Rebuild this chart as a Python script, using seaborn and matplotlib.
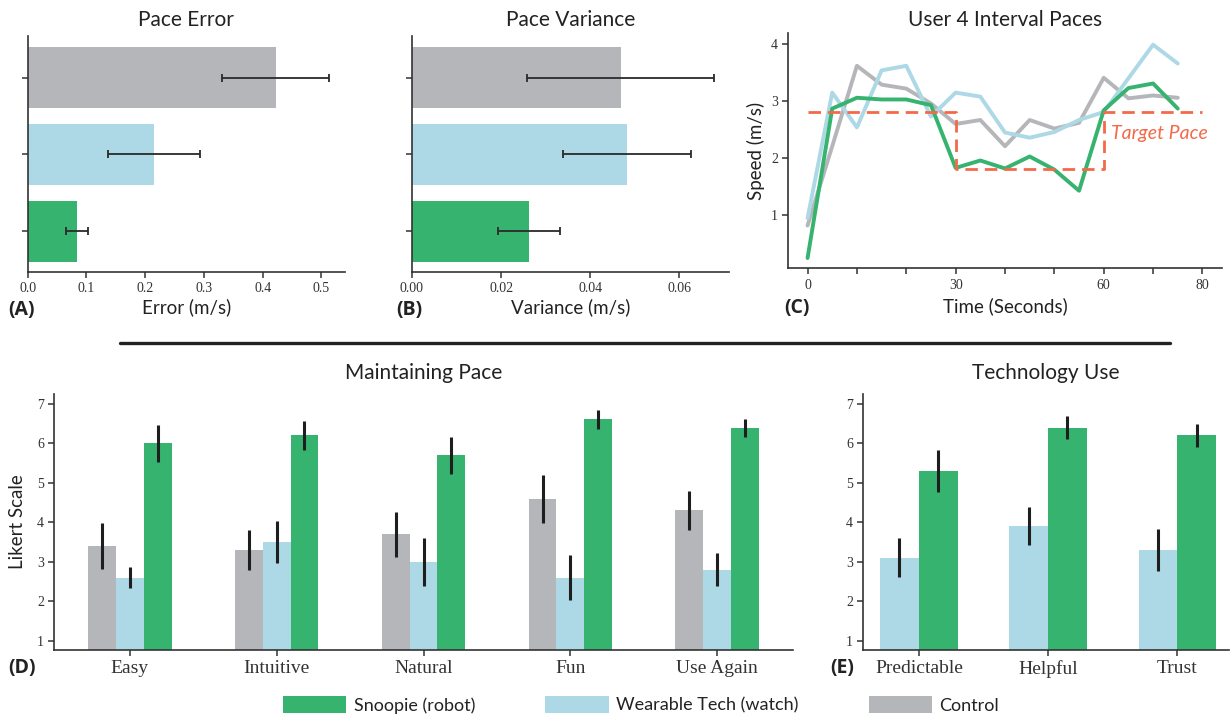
import numpy as np
import pandas as pd
import matplotlib
matplotlib.use("Agg")
import matplotlib.pyplot as plt
from matplotlib.patches import Patch
from matplotlib.lines import Line2D
import seaborn as sns

# ---------------- data ----------------
groups = ["Control", "Wearable Tech (watch)", "Snoopie (robot)"]
colors = {"Control": "#B5B6BA", "Wearable Tech (watch)": "#ADD8E6", "Snoopie (robot)": "#37B370"}

# Panel A: pace error (mean, +/- err)
err_mean = [0.422, 0.215, 0.084]
err_ci = [0.091, 0.078, 0.018]
# Panel B: pace variance
var_mean = [0.0468, 0.0482, 0.0263]
var_ci = [0.0210, 0.0143, 0.0069]

# Panel C: user 4 interval paces
time_s = [0, 5, 10, 15, 20, 25, 30, 35, 40, 45, 50, 55, 60, 65, 70, 75]
pace_snoopie = [0.24, 2.86, 3.05, 3.02, 3.02, 2.92, 1.82, 1.95, 1.81, 2.02, 1.79, 1.42, 2.83, 3.22, 3.30, 2.86]
pace_watch = [0.94, 3.14, 2.53, 3.53, 3.61, 2.72, 3.14, 3.07, 2.44, 2.35, 2.45, 2.66, 2.80, 3.39, 3.98, 3.65]
pace_control = [0.81, 2.20, 3.61, 3.28, 3.21, 2.95, 2.59, 2.66, 2.20, 2.66, 2.51, 2.61, 3.40, 3.04, 3.09, 3.05]
target_time = [0, 30, 30, 60, 60, 80]
target_pace = [2.8, 2.8, 1.8, 1.8, 2.8, 2.8]
c_xticks = [0, 10, 20, 30, 40, 50, 60, 70, 80]
c_xticklabels = ["0", "", "", "30", "", "", "60", "", "80"]

# Panel D: maintaining pace (Likert)
d_cats = ["Easy", "Intuitive", "Natural", "Fun", "Use Again"]
d_control = [3.40, 3.30, 3.70, 4.59, 4.31]
d_control_lo = [2.82, 2.78, 3.13, 3.99, 3.80]
d_control_hi = [3.97, 3.81, 4.25, 5.20, 4.79]
d_watch = [2.59, 3.50, 2.99, 2.59, 2.79]
d_watch_lo = [2.33, 2.96, 2.39, 2.03, 2.38]
d_watch_hi = [2.86, 4.03, 3.59, 3.16, 3.21]
d_snoopie = [6.00, 6.21, 5.71, 6.62, 6.39]
d_snoopie_lo = [5.53, 5.83, 5.23, 6.37, 6.17]
d_snoopie_hi = [6.47, 6.56, 6.17, 6.85, 6.62]

# Panel E: technology use
e_cats = ["Predictable", "Helpful", "Trust"]
e_watch = [3.09, 3.91, 3.30]
e_watch_lo = [2.60, 3.42, 2.77]
e_watch_hi = [3.60, 4.38, 3.83]
e_snoopie = [5.30, 6.39, 6.21]
e_snoopie_lo = [4.76, 6.10, 5.91]
e_snoopie_hi = [5.83, 6.70, 6.48]

# ---------------- style ----------------
sns.set_theme(style="ticks")
SANS = ["Lato", "DejaVu Sans"]
SERIF = ["Liberation Serif", "DejaVu Serif"]
plt.rcParams["font.family"] = SANS
plt.rcParams["axes.edgecolor"] = "#333333"
plt.rcParams["axes.linewidth"] = 1.2
plt.rcParams["xtick.color"] = "#333333"
plt.rcParams["ytick.color"] = "#333333"
plt.rcParams["text.color"] = "#222222"
plt.rcParams["axes.labelcolor"] = "#222222"

W, H = 1230, 717
fig = plt.figure(figsize=(W / 100, H / 100), dpi=100)


def add_ax(left, top, right, bottom):
    return fig.add_axes([left / W, 1 - bottom / H, (right - left) / W, (bottom - top) / H])


def style_ticks(ax, size=10):
    for lab in ax.get_xticklabels() + ax.get_yticklabels():
        lab.set_fontfamily(SERIF)
        lab.set_fontsize(size)
    ax.tick_params(length=4, width=1.1)


BAR_KW = dict(linewidth=0, edgecolor="none", saturation=1, errorbar=None, legend=False)

# ---------------- Panel A ----------------
axA = add_ax(27.7, 36, 345, 272)
dfA = pd.DataFrame({"group": groups, "value": err_mean})
sns.barplot(data=dfA, x="value", y="group", hue="group", palette=colors, orient="h",
            width=0.8, ax=axA, **BAR_KW)
axA.errorbar(err_mean, range(len(groups)), xerr=err_ci, fmt="none", ecolor="#2a2a2a",
             capsize=3, elinewidth=1.3, capthick=1.3)
axA.set_xlim(0, 0.54)
axA.set_ylim(2.53, -0.54)
axA.set_xticks([0, 0.1, 0.2, 0.3, 0.4, 0.5])
axA.set_xticklabels(["0.0", "0.1", "0.2", "0.3", "0.4", "0.5"])
axA.set_yticklabels([])
axA.set_ylabel("")
axA.set_xlabel("Error (m/s)", fontsize=13.5, labelpad=2)
axA.set_title("Pace Error", fontsize=15, pad=7)
sns.despine(ax=axA)
style_ticks(axA)

# ---------------- Panel B ----------------
axB = add_ax(412, 36, 729.3, 272)
dfB = pd.DataFrame({"group": groups, "value": var_mean})
sns.barplot(data=dfB, x="value", y="group", hue="group", palette=colors, orient="h",
            width=0.8, ax=axB, **BAR_KW)
axB.errorbar(var_mean, range(len(groups)), xerr=var_ci, fmt="none", ecolor="#2a2a2a",
             capsize=3, elinewidth=1.3, capthick=1.3)
axB.set_xlim(0, 0.0712)
axB.set_ylim(2.53, -0.54)
axB.set_xticks([0, 0.02, 0.04, 0.06])
axB.set_xticklabels(["0.00", "0.02", "0.04", "0.06"])
axB.set_yticklabels([])
axB.set_ylabel("")
axB.set_xlabel("Variance (m/s)", fontsize=13.5, labelpad=2)
axB.set_title("Pace Variance", fontsize=15, pad=7)
sns.despine(ax=axB)
style_ticks(axB)

# ---------------- Panel C ----------------
axC = add_ax(788.3, 33.3, 1221.7, 268.3)
dfC = pd.DataFrame({
    "time": time_s * 3,
    "pace": pace_control + pace_watch + pace_snoopie,
    "group": ["Control"] * len(time_s) + ["Wearable Tech (watch)"] * len(time_s)
             + ["Snoopie (robot)"] * len(time_s),
})
sns.lineplot(data=dfC, x="time", y="pace", hue="group", hue_order=groups, palette=colors,
             linewidth=2.8, legend=False, ax=axC)
sns.lineplot(x=target_time, y=target_pace, color="#F4694A", linewidth=2.0, ax=axC,
             estimator=None, sort=False, zorder=5)
axC.lines[-1].set_linestyle((0, (4.5, 2.5)))
axC.text(61.5, 2.42, "Target Pace", color="#F4694A", fontsize=14, style="italic",
         ha="left", va="center")
axC.set_xlim(-3.9, 83.9)
axC.set_ylim(0.06, 4.18)
axC.set_xticks(c_xticks)
axC.set_xticklabels(c_xticklabels)
axC.set_yticks([1, 2, 3, 4])
axC.set_xlabel("Time (Seconds)", fontsize=13.5, labelpad=4)
axC.set_ylabel("Speed (m/s)", fontsize=13.5, labelpad=4)
axC.set_title("User 4 Interval Paces", fontsize=15, pad=5)
sns.despine(ax=axC)
style_ticks(axC)

# ---------------- Panel D ----------------
axD = add_ax(54.3, 394, 792.7, 650)
dfD = pd.DataFrame({
    "cat": d_cats * 3,
    "group": ["Control"] * 5 + ["Wearable Tech (watch)"] * 5 + ["Snoopie (robot)"] * 5,
    "value": d_control + d_watch + d_snoopie,
})
sns.barplot(data=dfD, x="cat", y="value", hue="group", hue_order=groups, palette=colors,
            width=0.57, ax=axD, **BAR_KW)
d_lo = [d_control_lo, d_watch_lo, d_snoopie_lo]
d_hi = [d_control_hi, d_watch_hi, d_snoopie_hi]
for cont, lo, hi in zip(axD.containers, d_lo, d_hi):
    xs = [p.get_x() + p.get_width() / 2 for p in cont.patches]
    axD.vlines(xs, lo, hi, colors="#1e1e1e", linewidth=2.2, zorder=4)
axD.set_xlim(-0.513, 4.513)
axD.set_ylim(0.76, 7.25)
axD.set_yticks([1, 2, 3, 4, 5, 6, 7])
axD.set_xlabel("")
axD.set_ylabel("Likert Scale", fontsize=13.5, labelpad=8)
axD.set_title("Maintaining Pace", fontsize=15, pad=11)
sns.despine(ax=axD)
style_ticks(axD, 10)
for lab in axD.get_xticklabels():
    lab.set_fontsize(14)

# ---------------- Panel E ----------------
axE = add_ax(863.3, 394, 1229, 650)
dfE = pd.DataFrame({
    "cat": e_cats * 2,
    "group": ["Wearable Tech (watch)"] * 3 + ["Snoopie (robot)"] * 3,
    "value": e_watch + e_snoopie,
})
sns.barplot(data=dfE, x="cat", y="value", hue="group",
            hue_order=["Wearable Tech (watch)", "Snoopie (robot)"], palette=colors,
            width=0.6, ax=axE, **BAR_KW)
e_lo = [e_watch_lo, e_snoopie_lo]
e_hi = [e_watch_hi, e_snoopie_hi]
for cont, lo, hi in zip(axE.containers, e_lo, e_hi):
    xs = [p.get_x() + p.get_width() / 2 for p in cont.patches]
    axE.vlines(xs, lo, hi, colors="#1e1e1e", linewidth=2.2, zorder=4)
axE.set_xlim(-0.43, 2.40)
axE.set_ylim(0.76, 7.25)
axE.set_yticks([1, 2, 3, 4, 5, 6, 7])
axE.set_xlabel("")
axE.set_ylabel("")
axE.set_title("Technology Use", fontsize=15, pad=11)
sns.despine(ax=axE)
style_ticks(axE, 10)
for lab in axE.get_xticklabels():
    lab.set_fontsize(14)

# ---------------- panel letters, separator, legend ----------------
for txt, x, y in [("(A)", 8, 310), ("(B)", 396, 310), ("(C)", 784, 308),
                  ("(D)", 8, 668), ("(E)", 830, 668)]:
    fig.text(x / W, 1 - y / H, txt, fontsize=14, fontweight="bold", ha="left", va="center",
             family=["Open Sans", "DejaVu Sans"])

fig.add_artist(Line2D([120 / W, 1170 / W], [1 - 343 / H] * 2, color="#222222", linewidth=2.4))

handles = [Patch(facecolor=colors[g], edgecolor="none", label=g)
           for g in ["Snoopie (robot)", "Wearable Tech (watch)", "Control"]]
fig.legend(handles=handles, loc="center", bbox_to_anchor=(641 / W, 1 - 705 / H), ncol=3,
           frameon=False, fontsize=13, handlelength=3.5, handleheight=1.0,
           handletextpad=0.4, columnspacing=3.9)

fig.savefig("out.png", dpi=100)
